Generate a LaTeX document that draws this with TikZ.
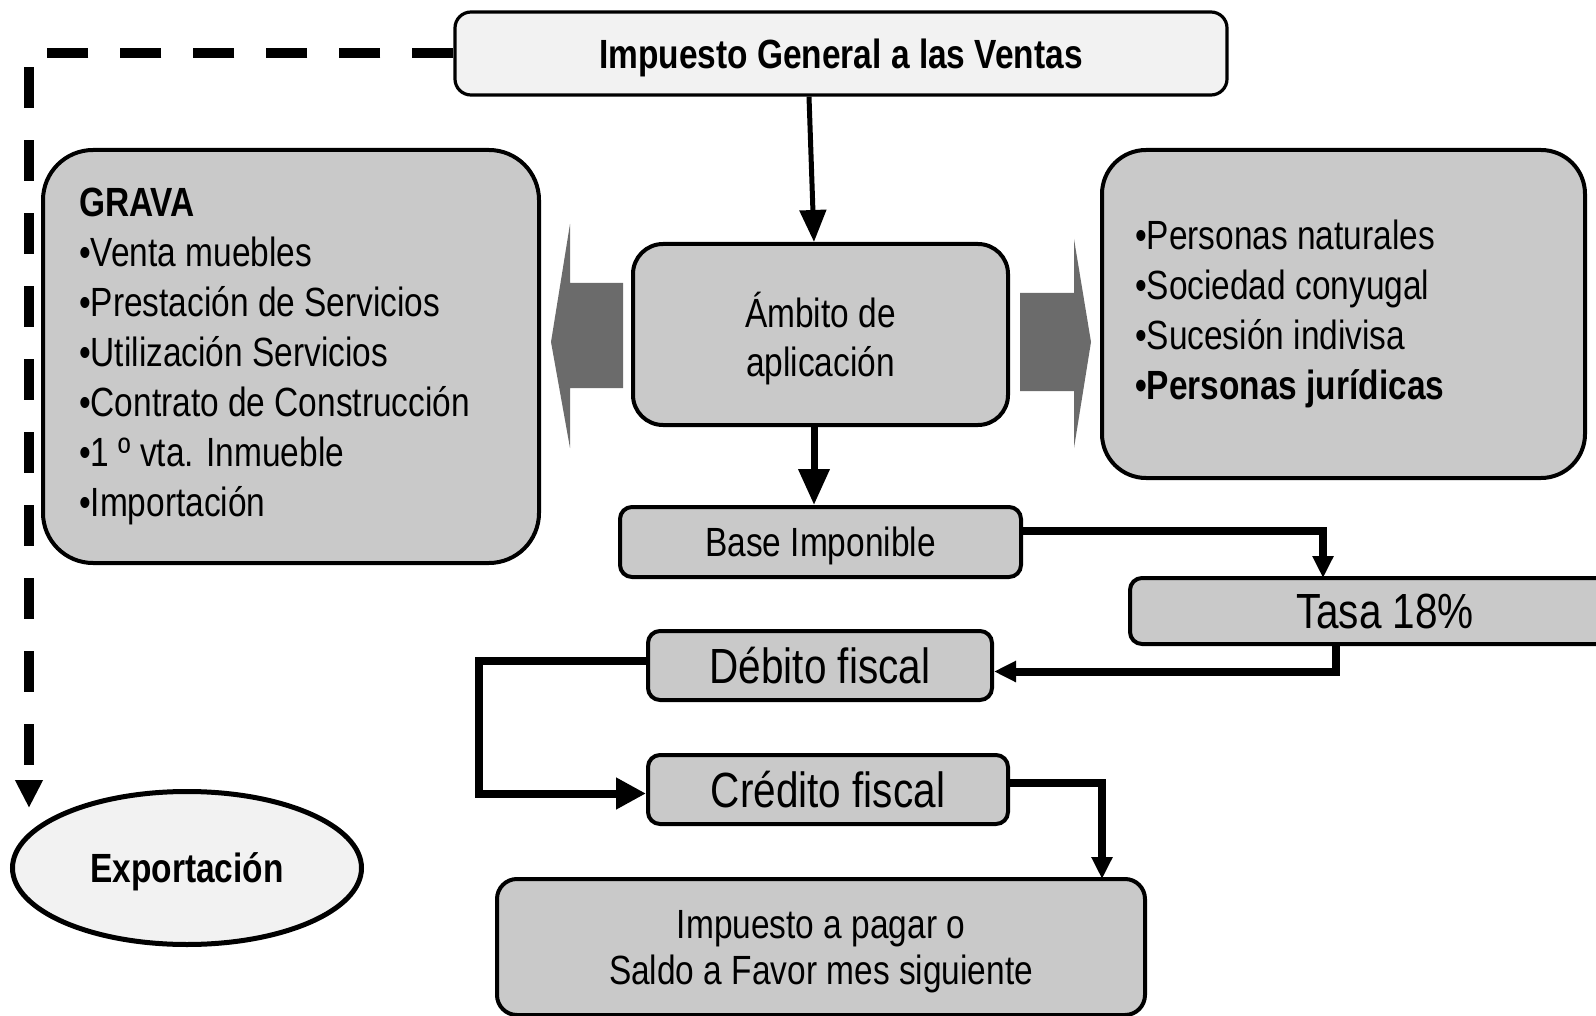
\documentclass[tikz,border=0pt]{standalone}
\usepackage{fontspec}
\setmainfont{Liberation Sans}[FakeStretch=0.82]
\usetikzlibrary{arrows.meta,shapes.geometric}
\definecolor{boxgray}{HTML}{C9C9C9}
\definecolor{palegray}{HTML}{F2F2F2}
\definecolor{arrowgray}{HTML}{6B6B6B}
\tikzset{>=Triangle}
\tikzset{
  box/.style={draw=black,line width=2pt,fill=boxgray,rounded corners=6pt,inner sep=0pt,align=center},
  nodepth/.style={text depth=0pt},
  txt/.style={font=\fontsize{20.4}{25}\selectfont},
  bigtxt/.style={font=\fontsize{24.7}{30}\selectfont},
  flow/.style={line width=4pt},
  smallhead/.style={-{Triangle[width=10pt,length=11pt]}}
}

\begin{document}
\begin{tikzpicture}[x=0.5pt,y=-0.5pt]
\useasboundingbox (0,0) rectangle (1596,1016);
\clip (0,0) rectangle (1596,1016);
\node[box,nodepth,fill=palegray,rounded corners=8pt,line width=1.6pt,minimum width=386pt,minimum height=41.5pt,
  font=\fontsize{20.4}{25}\selectfont\bfseries] (igv) at (841,53.5) {Impuesto General a las Ventas};
\node[box,rounded corners=25pt,minimum height=206.5pt,text width=212pt,inner xsep=18pt,align=flush left,txt]
  (grava) at (291,356.5) {\textbf{GRAVA}\\•Venta muebles\\•Prestación de Servicios\\•Utilización Servicios\\•Contrato de Construcción\\•1 º vta. Inmueble\\•Importación};
\node[box,nodepth,rounded corners=15pt,minimum width=187.5pt,minimum height=90.5pt,font=\fontsize{20.4}{24.5}\selectfont]
  (ambito) at (820.5,334.5) {Ámbito de\\aplicación};
\node[box,rounded corners=22pt,minimum height=164pt,text width=208.5pt,inner xsep=16.5pt,align=flush left,txt]
  (sujetos) at (1343.5,314) {•Personas naturales\\•Sociedad conyugal\\•Sucesión indivisa\\\textbf{•Personas jurídicas}};
\node[box,nodepth,minimum width=200.5pt,minimum height=35pt,txt] (base) at (820.5,542) {Base Imponible};
\node[box,nodepth,minimum width=255pt,minimum height=33pt,bigtxt] (tasa) at (1385,611) {Tasa 18\%};
\node[box,nodepth,minimum width=172pt,minimum height=34.5pt,bigtxt] (debito) at (820,665.5) {Débito fiscal};
\node[box,nodepth,minimum width=180pt,minimum height=34.5pt,bigtxt] (credito) at (828,789.5) {Crédito fiscal};
\node[box,nodepth,rounded corners=10pt,minimum width=324pt,minimum height=68pt,font=\fontsize{20.4}{23}\selectfont]
  (pagar) at (821,947) {Impuesto a pagar o\\Saldo a Favor mes siguiente};
\node[ellipse,nodepth,draw=black,line width=2.5pt,fill=palegray,minimum width=174.5pt,minimum height=76.5pt,inner sep=0pt,
  font=\fontsize{20.4}{25}\selectfont\bfseries] (export) at (187,868) {Exportación};
\fill[arrowgray] (623,283) -- (570,283) -- (570,224) -- (551,342) -- (570,448) -- (570,388) -- (623,388) -- cycle;
\fill[arrowgray] (1020,293) -- (1074,293) -- (1074,239) -- (1091,342) -- (1074,448) -- (1074,391) -- (1020,391) -- cycle;
\draw[line width=2.5pt,-{Triangle[width=13pt,length=16pt]}] ([xshift=-16pt]igv.south) -- ([xshift=-3.25pt]ambito.north);
\draw[line width=3.5pt,-{Triangle[width=15pt,length=18pt]}] ([xshift=-3.25pt]ambito.south) -- ([xshift=-3.25pt]base.north);
\coordinate (tasain) at (1323,578);
\coordinate (tasaout) at (1336,644);
\coordinate (pagarin) at (1102,879);
\draw[flow,smallhead] ([yshift=5.5pt]base.east) -| (tasain);
\draw[flow,smallhead] (tasaout) |- ([yshift=-3pt]debito.east);
\draw[flow,-{Triangle[width=15pt,length=15pt]}] ([yshift=2.5pt]debito.west) -- ++(-167,0) |- ([yshift=-2pt]credito.west);
\draw[flow,smallhead] ([yshift=3.5pt]credito.east) -| (pagarin);
\coordinate (dcorner) at (29,53.5);
\coordinate (dend) at (29,808);
\draw[line width=5pt,dash pattern=on 20.5pt off 16pt,-{Triangle[width=13pt,length=14pt]}] (igv.west) -- (dcorner) -- (dend);
\end{tikzpicture}
\end{document}
